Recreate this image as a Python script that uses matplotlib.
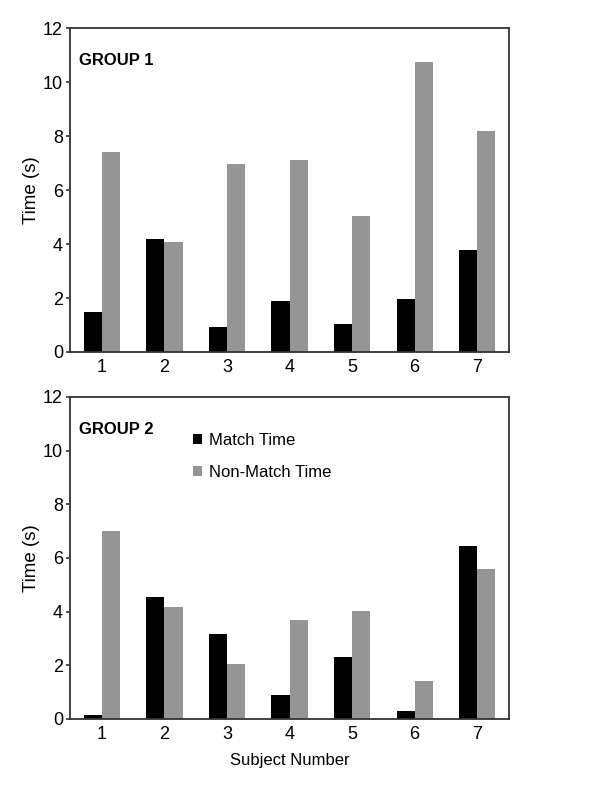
import matplotlib.pyplot as plt
import numpy as np

plt.rcParams['font.family'] = ['Liberation Sans', 'DejaVu Sans']

subjects = [1, 2, 3, 4, 5, 6, 7]
g1_match = [1.48, 4.20, 0.91, 1.89, 1.03, 1.97, 3.77]
g1_nonmatch = [7.40, 4.08, 6.96, 7.12, 5.03, 10.74, 8.17]
g2_match = [0.14, 4.56, 3.17, 0.88, 2.31, 0.30, 6.45]
g2_nonmatch = [7.01, 4.19, 2.06, 3.68, 4.04, 1.40, 5.60]

black = '#000000'
grey = '#959595'
w = 0.29

fig = plt.figure(figsize=(6.15, 7.88), dpi=100)
ax1 = fig.add_axes([0.1138, 0.5533, 0.714, 0.411])
ax2 = fig.add_axes([0.1138, 0.0876, 0.714, 0.4086])

x = np.array(subjects)
for ax, m, n, title in [(ax1, g1_match, g1_nonmatch, 'GROUP 1'),
                        (ax2, g2_match, g2_nonmatch, 'GROUP 2')]:
    ax.bar(x, m, width=-w, align='edge', color=black, label='Match Time')
    ax.bar(x, n, width=w, align='edge', color=grey, label='Non-Match Time')
    ax.set_xlim(0.49, 7.51)
    ax.set_ylim(0, 12)
    ax.set_yticks([0, 2, 4, 6, 8, 10, 12])
    ax.set_xticks(subjects)
    ax.tick_params(axis='both', labelsize=13, color='#333333')
    ax.tick_params(axis='x', length=0, pad=5)
    ax.tick_params(axis='y', length=3, width=1.2, pad=2)
    for s in ax.spines.values():
        s.set_linewidth(1.3)
        s.set_color('#333333')
    ax.set_ylabel('Time (s)', fontsize=13.5, labelpad=2)
    ax.text(0.02, 0.9, title, transform=ax.transAxes, fontsize=12,
            fontweight='bold', va='center', ha='left')

ax2.set_xlabel('Subject Number', fontsize=12, labelpad=7)
ax2.legend(loc='upper left', bbox_to_anchor=(0.245, 0.935), frameon=False, fontsize=12,
           handlelength=0.55, handleheight=0.55, handletextpad=0.45, labelspacing=1.0)

fig.savefig('out.png', dpi=100)
